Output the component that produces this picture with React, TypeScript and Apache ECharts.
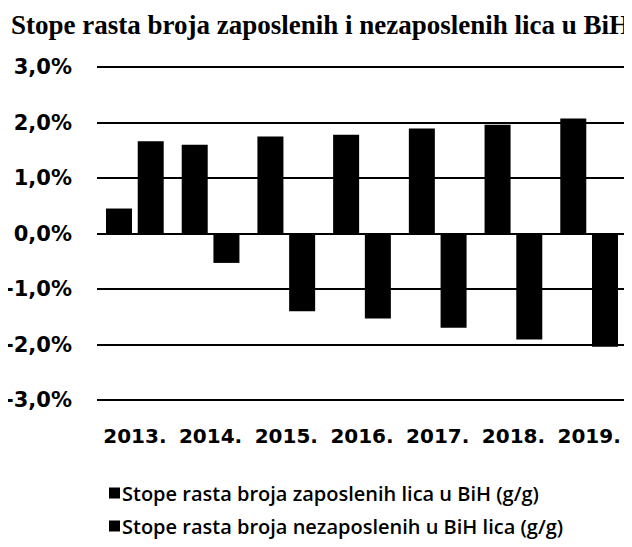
import React, { useEffect, useRef } from "react";
import * as echarts from "echarts";

const titleText = "Stope rasta broja zaposlenih i nezaposlenih lica u BiH";
const categories = ["2013.", "2014.", "2015.", "2016.", "2017.", "2018.", "2019."];
const seriesNames = [
  "Stope rasta broja zaposlenih lica u BiH (g/g)",
  "Stope rasta broja nezaposlenih u BiH lica (g/g)",
];
// values, in percent
const employed = [0.45, 1.6, 1.75, 1.78, 1.89, 1.96, 2.07];
const unemployed = [1.66, -0.53, -1.4, -1.53, -1.7, -1.91, -2.04];

export default function App() {
  const ref = useRef<HTMLDivElement>(null);
  useEffect(() => {
    if (!ref.current) return;
    const chart = echarts.init(ref.current, null, { renderer: "svg" });
    const fmt = (v: number) => v.toFixed(1).replace(".", ",") + "%";
    chart.setOption({
      animation: false,
      backgroundColor: "#ffffff",
      title: {
        text: titleText,
        left: 6,
        top: 6,
        textStyle: {
          fontFamily: "Liberation Serif",
          fontWeight: "bold",
          fontSize: 27,
          color: "#000",
        },
      },
      grid: { left: 97, right: 5, top: 67, bottom: 147, containLabel: false },
      xAxis: {
        type: "category",
        data: categories,
        axisLine: { show: false, onZero: false },
        axisTick: { show: false },
        axisLabel: {
          interval: 0,
          margin: 26,
          fontFamily: "DejaVu Sans",
          fontWeight: "bold",
          fontSize: 20,
          color: "#000",
        },
        splitLine: { show: false },
      },
      yAxis: {
        type: "value",
        min: -3,
        max: 3,
        interval: 1,
        axisLine: { show: false },
        axisTick: { show: false },
        axisLabel: {
          formatter: fmt,
          margin: 25,
          fontFamily: "DejaVu Sans",
          fontWeight: "bold",
          fontSize: 21,
          color: "#000",
        },
        splitLine: { show: true, lineStyle: { color: "#000", width: 2 } },
      },
      legend: {
        orient: "vertical",
        left: 104,
        top: 478,
        itemGap: 13,
        itemWidth: 11,
        itemHeight: 11,
        icon: "rect",
        data: seriesNames,
        textStyle: {
          fontFamily: "Open Sans",
          fontWeight: 600,
          fontSize: 20,
          color: "#000",
          padding: [0, 0, 0, -3],
        },
      },
      series: [
        {
          name: seriesNames[0],
          type: "bar",
          data: employed,
          barWidth: 26,
          barGap: "22%",
          itemStyle: { color: "#000" },
        },
        {
          name: seriesNames[1],
          type: "bar",
          data: unemployed,
          barWidth: 26,
          itemStyle: { color: "#000" },
        },
      ],
    });
    return () => chart.dispose();
  }, []);
  return <div ref={ref} style={{ width: 632, height: 547, marginLeft: -8, marginTop: -8 }} />;
}
